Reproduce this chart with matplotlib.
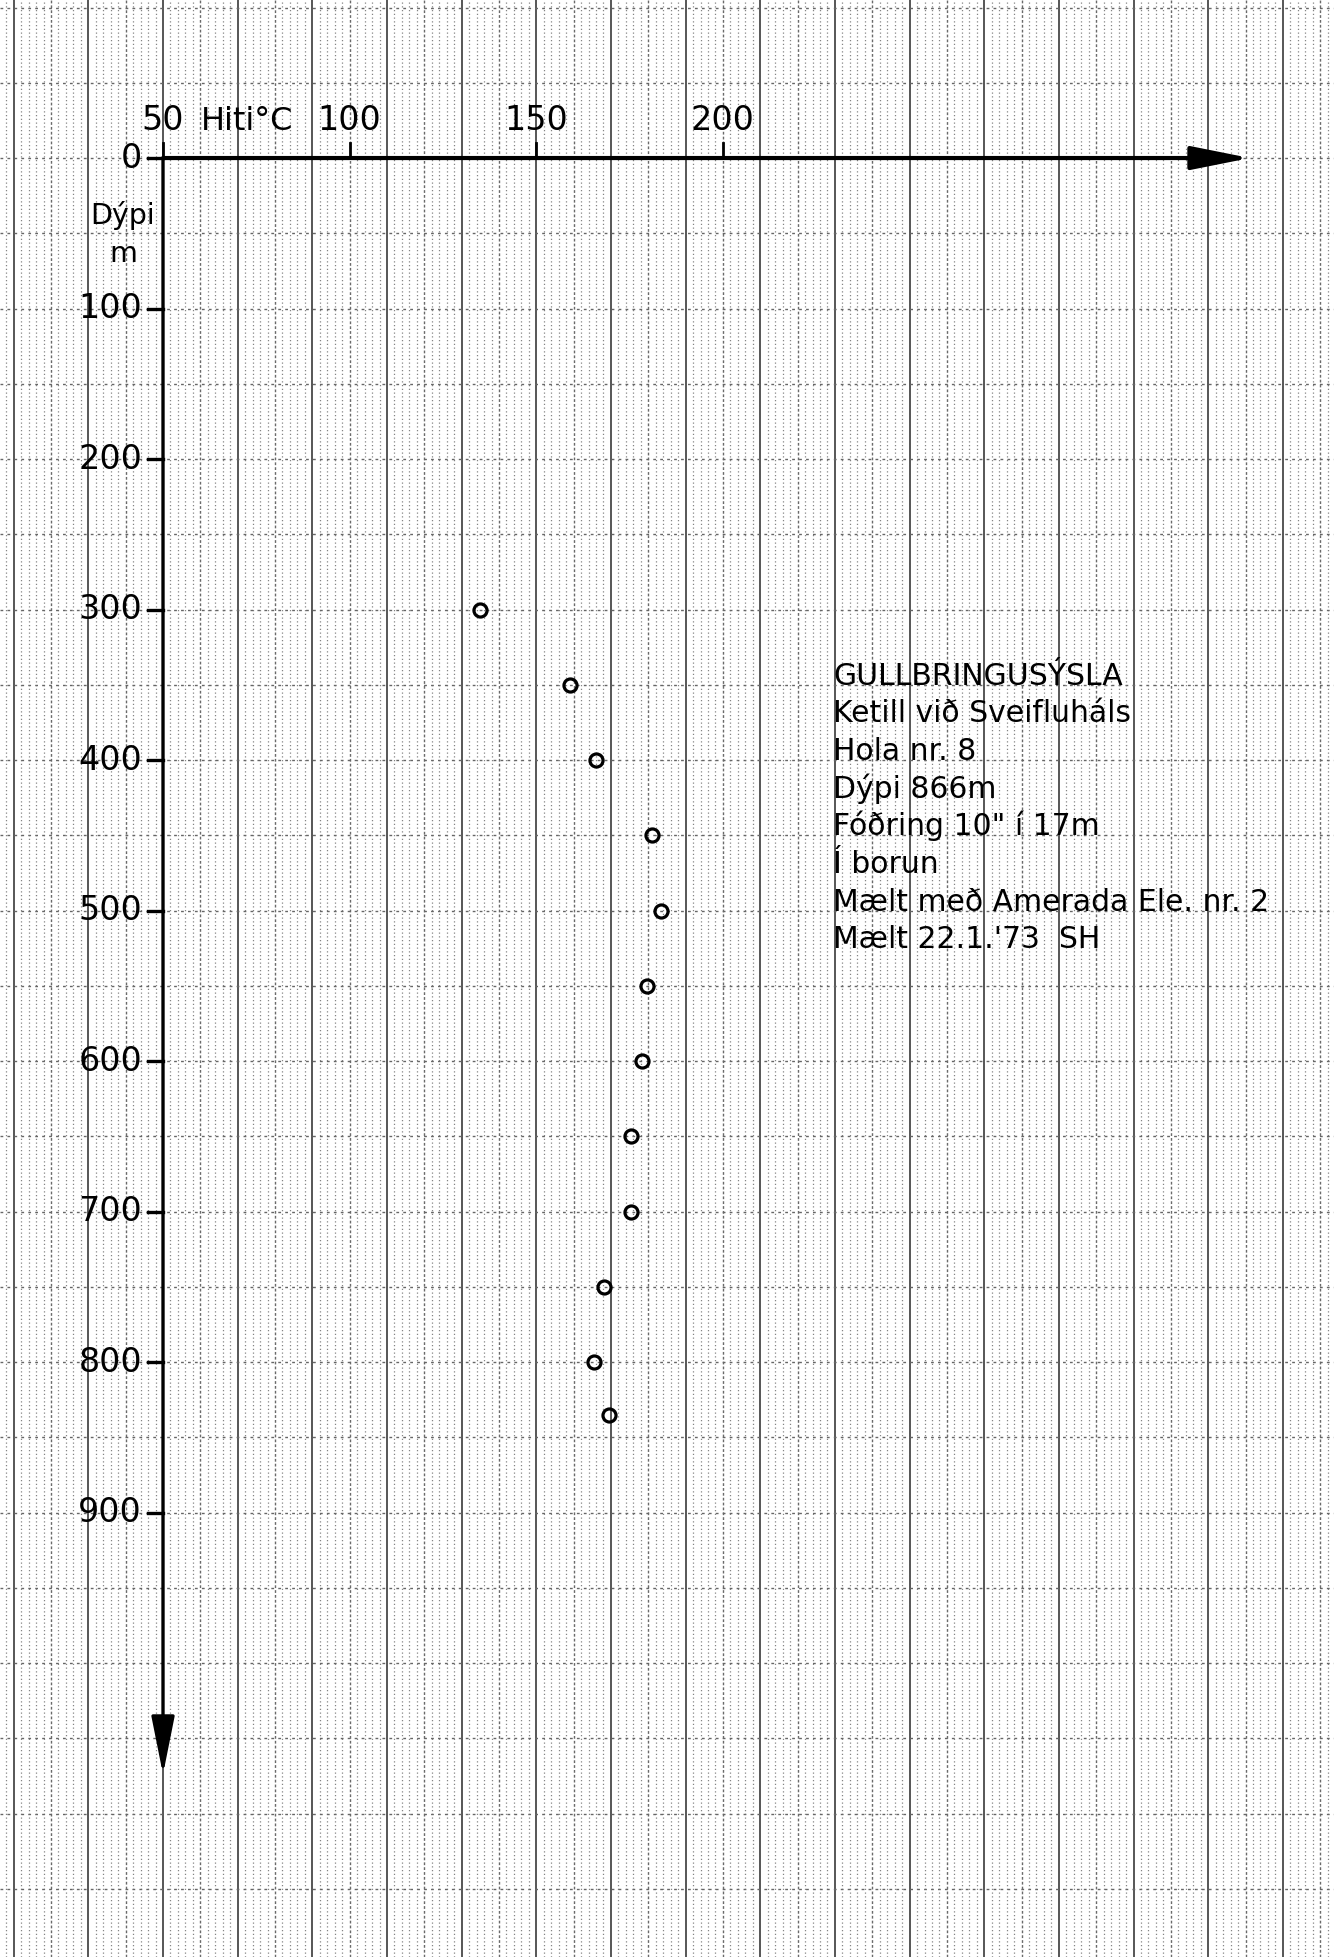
"""Borehole temperature log on graph paper: Ketill við Sveifluháls, hola nr. 8."""

from matplotlib import pyplot
import numpy


# Measured temperatures (°C) against depth (m).
depth = [300, 350, 400, 450, 500, 550, 600, 650, 700, 750, 800, 835]
temp = [134.9, 159.0, 165.9, 181.1, 183.3, 179.7, 178.2, 175.3, 175.3,
        168.2, 165.4, 169.4]

xticks = [50, 100, 150, 200]
yticks = [0, 100, 200, 300, 400, 500, 600, 700, 800, 900]

info_lines = ['GULLBRINGUSÝSLA',
              'Ketill við Sveifluháls',
              'Hola nr. 8',
              'Dýpi 866m',
              'Fóðring 10" í 17m',
              'Í borun',
              'Mælt með Amerada Ele. nr. 2',
              "Mælt 22.1.'73  SH"]

# Page extent in data units (the whole sheet is one axes).
xmin, xmax = 6.33, 363.7
ymin, ymax = -105.0, 1195.3

pyplot.rc('font', family='DejaVu Sans')
fig = pyplot.figure(figsize=(13.34, 19.57), dpi=100)
ax = fig.add_axes([0, 0, 1, 1])
ax.set_xlim(xmin, xmax)
ax.set_ylim(ymax, ymin)
ax.axis('off')

# Graph paper.
for xv in numpy.arange(0, 370, 2):
    if xv % 20 == 10:
        ax.axvline(xv, color='#3a3a3a', lw=1.2, zorder=0)
    elif xv % 10 == 0:
        ax.axvline(xv, color='#6a6a6a', lw=1.0, ls=(0, (2, 1.5)), zorder=0)
    else:
        ax.axvline(xv, color='#858585', lw=0.9, ls=(0, (1, 2)), zorder=0)
for yv in numpy.arange(-100, 1200, 50):
    ax.axhline(yv, color='#666666', lw=1.0, ls=(0, (2, 3)), zorder=0)

# Axes drawn as arrows.
arrow = dict(arrowstyle='-|>,head_length=1.8,head_width=0.36',
             mutation_scale=20, color='black', shrinkA=0, shrinkB=0)
ax.annotate('', xy=(341.2, 0), xytext=(50, 0),
            arrowprops=dict(arrow, lw=3.0))
ax.annotate('', xy=(50, 1074), xytext=(50, 0),
            arrowprops=dict(arrow, lw=2.4))

# Ticks and tick labels.
for xt in xticks:
    ax.plot([xt, xt], [0, -10], color='black', lw=2.0)
    ax.text(xt, -14, f'{xt}', ha='center', va='bottom', fontsize=24)
for yt in yticks:
    ax.plot([46, 50], [yt, yt], color='black', lw=2.4)
    ax.text(44.4, yt, f'{yt}', ha='right', va='center', fontsize=24)

ax.text(60.2, -14, 'Hiti°C', ha='left', va='bottom', fontsize=23)
ax.text(39.1, 38.5, 'Dýpi', ha='center', va='center', fontsize=20.5)
ax.text(39.4, 64, 'm', ha='center', va='center', fontsize=20.5)

# Measurements.
ax.plot(temp, depth, linestyle='none', marker='o', markersize=9.4,
        markerfacecolor='none', markeredgecolor='black',
        markeredgewidth=2.3, zorder=3)

# Description block.
for i, line in enumerate(info_lines):
    ax.text(229.5, 350 + 25 * i, line, ha='left', va='baseline',
            fontsize=21.5)

# Cut-off sheet number at the top edge.
ax.text(290, ymin - 1.5, 'HM 16000', ha='left', va='baseline', fontsize=24)

fig.savefig('out.png', dpi=100)
